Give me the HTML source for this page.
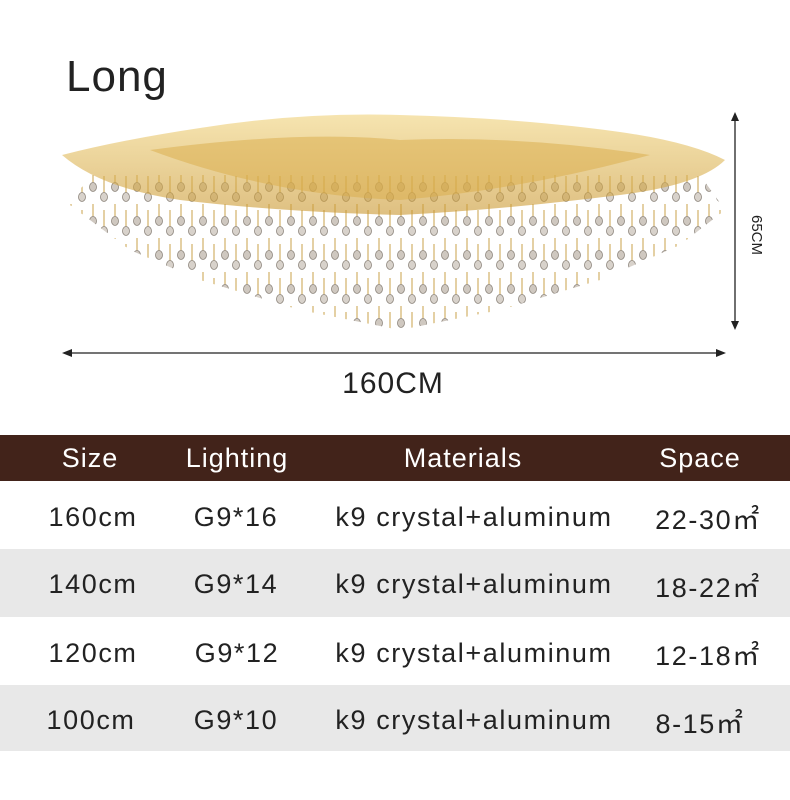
<!DOCTYPE html>
<html><head><meta charset="utf-8"><style>
body{margin:0;width:790px;height:800px;background:#fff;position:relative;overflow:hidden;font-family:"Liberation Sans",sans-serif;color:#222}
.t{position:absolute;white-space:nowrap;transform:translateX(-50%)}
.row{position:absolute;left:0;width:790px}
.b{font-size:27px;letter-spacing:1.6px}
</style></head><body>
<div style="position:absolute;left:66px;top:52px;font-size:44px;color:#222;letter-spacing:1px">Long</div>
<svg width="790" height="430" style="position:absolute;left:0;top:0">
<defs>
<pattern id="drops" x="0" y="0" width="22" height="34" patternUnits="userSpaceOnUse">
<line x1="5" y1="0" x2="5" y2="14" stroke="#c9a24a" stroke-width="1"/>
<ellipse cx="5" cy="17" rx="3.5" ry="4.5" fill="#cfc8c0" stroke="#8d857c" stroke-width="0.8"/>
<line x1="16" y1="6" x2="16" y2="24" stroke="#c9a24a" stroke-width="1"/>
<ellipse cx="16" cy="27" rx="3.5" ry="4.5" fill="#d8d2cb" stroke="#8d857c" stroke-width="0.8"/>
</pattern>
<linearGradient id="gold" x1="0" y1="0" x2="0" y2="1">
<stop offset="0" stop-color="#f0d27a"/><stop offset="1" stop-color="#c9962e"/>
</linearGradient>
</defs>
<path d="M70 205 L130 250 L200 280 L300 310 L400 330 L500 310 L600 280 L680 245 L725 210 L700 175 L90 175 Z" fill="url(#drops)"/>
<path d="M62 155 Q120 140 200 128 Q300 112 400 115 Q520 118 620 132 Q690 142 725 160 Q700 185 620 195 Q500 210 400 215 Q280 212 180 200 Q100 188 62 155 Z" fill="url(#gold)" opacity="0.6"/>
<path d="M150 150 Q300 130 400 140 Q520 135 650 155 Q520 190 400 200 Q270 195 150 150Z" fill="#d9ac48" opacity="0.5"/>
<line x1="735" y1="114" x2="735" y2="328" stroke="#222" stroke-width="1.3"/>
<path d="M731 121 L735 112 L739 121Z M731 321 L735 330 L739 321Z" fill="#222"/>
<line x1="64" y1="353" x2="724" y2="353" stroke="#222" stroke-width="1.3"/>
<path d="M72 349 L62 353 L72 357Z M716 349 L726 353 L716 357Z" fill="#222"/>
<text x="752" y="235" font-size="15" fill="#222" transform="rotate(90 752 235)" text-anchor="middle" font-family="Liberation Sans">65CM</text>
</svg>
<div class="t" style="left:393px;top:367px;font-size:30px;letter-spacing:1px">160CM</div>
<div class="row" style="top:435px;height:46px;background:#42231a;color:#fff;font-size:27px;letter-spacing:1px">
<div class="t" style="left:90px;top:8px">Size</div>
<div class="t" style="left:237px;top:8px">Lighting</div>
<div class="t" style="left:463px;top:8px">Materials</div>
<div class="t" style="left:700px;top:8px">Space</div>
</div>
<div class="row" style="top:549px;height:68px;background:#e8e8e8"></div>
<div class="row" style="top:685px;height:66px;background:#e8e8e8"></div>
<div class="b">
<div class="t" style="left:93px;top:502px">160cm</div><div class="t" style="left:236px;top:502px">G9*16</div><div class="t" style="left:474px;top:502px">k9 crystal+aluminum</div><div class="t" style="left:708px;top:498px">22-30㎡</div>
<div class="t" style="left:93px;top:569px">140cm</div><div class="t" style="left:236px;top:569px">G9*14</div><div class="t" style="left:474px;top:569px">k9 crystal+aluminum</div><div class="t" style="left:708px;top:566px">18-22㎡</div>
<div class="t" style="left:93px;top:638px">120cm</div><div class="t" style="left:237px;top:638px">G9*12</div><div class="t" style="left:474px;top:638px">k9 crystal+aluminum</div><div class="t" style="left:708px;top:634px">12-18㎡</div>
<div class="t" style="left:91px;top:705px">100cm</div><div class="t" style="left:236px;top:705px">G9*10</div><div class="t" style="left:474px;top:705px">k9 crystal+aluminum</div><div class="t" style="left:700px;top:702px">8-15㎡</div>
</div>
</body></html>
